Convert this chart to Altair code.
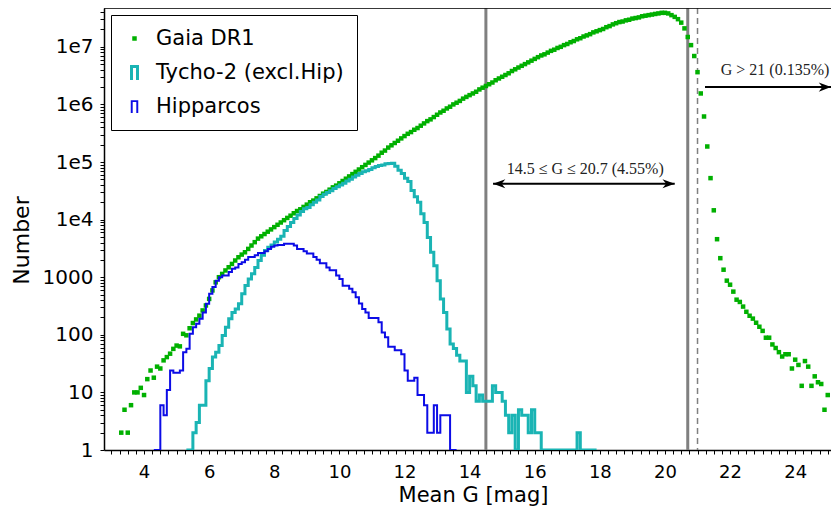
import altair as alt
import pandas as pd

# ---------------- colours ----------------
GAIA_COLOR = "#00b000"
TYCHO_COLOR = "#1ab4b4"
HIP_COLOR = "#0c0ce6"
LINE_GREY = "#808080"

series_names = ["Gaia DR1", "Tycho-2 (excl.Hip)", "Hipparcos"]
series_colors = [GAIA_COLOR, TYCHO_COLOR, HIP_COLOR]

bin_width = 0.1

# ---------------- Gaia DR1 (points, bins of 0.1 mag starting at 3.3) ----------------
gaia_first = 3.3
gaia_counts = [
    2, 5, 2, 6, 10, 10, 12,                                                          # 3.3-3.9
    9, 17, 24, 18, 28, 26, 36, 41, 47, 57,                                            # 4.x
    65, 63, 104, 98, 130, 160, 185, 215, 265, 323,                                    # 5.x
    420, 590, 815, 1000, 1140, 1310, 1490, 1700, 1950, 2220,                          # 6.x
    2470, 2710, 3100, 3550, 4060, 4680, 5130, 5620, 6170, 6760,                       # 7.x
    7410, 8130, 8910, 9770, 10700, 11700, 12900, 14100, 15100, 16600,                 # 8.x
    18200, 20000, 21400, 23400, 25700, 28200, 30200, 33100, 36300, 38900,             # 9.x
    42700, 46800, 51300, 56200, 61700, 67600, 74100, 81300, 89100, 97700,             # 10.x
    107000, 117000, 129000, 145000, 158000, 178000, 195000, 214000, 234000, 257000,   # 11.x
    282000, 309000, 331000, 363000, 389000, 427000, 468000, 513000, 550000, 603000,   # 12.x
    661000, 724000, 776000, 851000, 912000, 1000000, 1070000, 1150000, 1260000, 1350000,  # 13.x
    1450000, 1550000, 1660000, 1820000, 1950000, 2090000, 2240000, 2400000, 2630000, 2820000,  # 14.x
    3020000, 3240000, 3470000, 3800000, 4070000, 4370000, 4680000, 5010000, 5370000, 5750000,  # 15.x
    6170000, 6610000, 7080000, 7410000, 7940000, 8510000, 8910000, 9550000, 10000000, 10700000,  # 16.x
    11200000, 12000000, 12600000, 13500000, 14100000, 15100000, 15800000, 16600000, 17800000, 18600000,  # 17.x
    19500000, 20400000, 21900000, 22900000, 24500000, 25700000, 26900000, 27500000, 28800000, 29500000,  # 18.x
    30900000, 31600000, 32400000, 33900000, 34700000, 35500000, 36300000, 37200000, 38000000, 38900000,  # 19.x
    38900000, 38000000, 35500000, 33100000, 30200000, 26300000, 20900000, 14800000, 10700000, 6920000,  # 20.x
    3630000, 1550000, 617000, 186000, 52500, 14500, 4570, 2140, 1350, 871,            # 21.x
    741, 562, 407, 372, 309, 251, 214, 191, 162, 138,                                 # 22.x
    117, 89, 89, 68, 59, 50, 42, 46, 46, 26,                                          # 23.x
    37, 30, 13, 35, 28, 13, 19, 15, 14, 5,                                            # 24.x
    9,                                                                                # 25.0
]

# ---------------- Tycho-2 excl. Hipparcos (histogram, left bin edges from 5.3) ----------------
tycho_first = 5.3
tycho_counts = [
    1, 1, 2, 3, 6, 6, 16,                                                   # 5.3-5.9
    26, 41, 50, 65, 97, 135, 190, 245, 280, 345,                            # 6.x
    515, 720, 935, 1150, 1480, 1950, 2400, 2900, 3300, 3630,                # 7.x
    4070, 4570, 5130, 6460, 7590, 8910, 10500, 12000, 13800, 15500,         # 8.x
    16200, 18200, 20000, 21900, 25100, 27500, 29500, 31600, 34700, 37200,   # 9.x
    39800, 42700, 46800, 50100, 55000, 58900, 63100, 67600, 70800, 74100,   # 10.x
    79400, 83200, 87100, 89100, 93300, 94400, 95500, 84000, 72000, 63000,   # 11.x
    52000, 46000, 32000, 25000, 20000, 12600, 8900, 4900, 2700, 1580,       # 12.x
    870, 420, 245, 126, 69, 58, 44, 35, 35, 10,                             # 13.x
    19, 13, 7, 9, 7, 7, 7, 13, 10, 10,                                      # 14.x
    7, 4, 2, 4, 1, 5, 4, 4, 2, 5,                                           # 15.x
    2, 2, 1, 1, 1, 1, 1, 1, 1, 1,                                           # 16.x
    1, 1, 1, 2, 1, 1, 1, 1, 1,                                              # 17.0-17.8
]

# ---------------- Hipparcos (histogram, left bin edges from 4.3) ----------------
hip_first = 4.3
hip_counts = [
    1, 1, 6, 4, 11, 24, 22,                                                 # 4.3-4.9
    22, 24, 50, 57, 104, 135, 155, 190, 245, 345,                           # 5.x
    515, 675, 870, 1000, 1070, 1070, 1230, 1400, 1480, 1700,                # 6.x
    1820, 2000, 2240, 2240, 2400, 2630, 2630, 2820, 3100, 3390,             # 7.x
    3550, 3630, 3630, 3800, 3800, 3800, 3550, 3100, 3100, 2820,             # 8.x
    2570, 2570, 2240, 2000, 1740, 1740, 1480, 1320, 1320, 1070,             # 9.x
    930, 710, 710, 630, 550, 450, 350, 280, 245, 195,                       # 10.x
    195, 195, 166, 110, 91, 62, 62, 54, 54, 46,                             # 11.x
    24, 16, 16, 18, 9, 9, 6, 2, 2, 6,                                       # 12.x
    2, 4, 4, 4, 1, 1,                                                       # 13.0-13.5
]

# ---------------- annotations ----------------
solid_limits = [14.5, 20.7]
dashed_limits = [21.0]
annot_text = ["14.5 \u2264 G \u2264 20.7 (4.55%)", "G > 21 (0.135%)"]
annot_text_mag = [17.55, 23.38]
annot_text_count = [76000, 3900000]
arrow_start = [14.72, 21.23]
arrow_end = [20.30, 25.1]
arrow_count = [41900, 2000000]
arrow_both_ends = [True, False]

# ---------------- axes ----------------
x_min, x_max = 2.77, 25.1
y_min, y_max = 1, 4.72e7
plot_w, plot_h = 727, 442

x_tick_values = [3 + 0.25 * i for i in range(89)]
y_tick_values = [k * 10 ** d for d in range(0, 8) for k in range(1, 10) if k * 10 ** d <= y_max]

FONT = "DejaVu Sans"


def hist_table(first, counts, name, close):
    mags = [round(first + bin_width * i, 2) for i in range(len(counts))]
    vals = list(counts)
    if close:
        mags.append(round(first + bin_width * len(counts), 2))
        vals.append(counts[-1])
    return pd.DataFrame({"mag": mags, "count": vals, "series": name})


gaia_df = hist_table(gaia_first, gaia_counts, series_names[0], False)
tycho_df = hist_table(tycho_first, tycho_counts, series_names[1], True)
hip_df = hist_table(hip_first, hip_counts, series_names[2], True)

x_scale = alt.Scale(domain=[x_min, x_max], nice=False, zero=False)
y_scale = alt.Scale(type="log", domain=[y_min, y_max], nice=False)

x_axis = alt.Axis(
    values=x_tick_values,
    labelExpr="datum.value % 2 == 0 ? format(datum.value, 'd') : ''",
    labelOverlap=False,
    labelFont=FONT, labelFontSize=18, labelColor="black", labelPadding=9,
    tickSize=4, tickColor="black", tickWidth=1,
    domainColor="black", domainWidth=1.5,
    grid=False,
    title="Mean G [mag]", titleFont=FONT, titleFontSize=21, titleFontWeight="normal",
    titleColor="black", titleX=369, titleY=45, titleAlign="center", titleBaseline="middle",
)
y_axis = alt.Axis(
    values=y_tick_values,
    labelExpr=(
        "datum.value < 9999 ? (indexof([1,10,100,1000], datum.value) >= 0 ? format(datum.value, 'd') : '')"
        " : (indexof([10000,100000,1000000,10000000], datum.value) >= 0 ? '1e' + format(round(log(datum.value)/LN10), 'd') : '')"
    ),
    labelOverlap=False,
    labelFont=FONT, labelFontSize=20, labelColor="black", labelPadding=7,
    tickSize=4, tickColor="black", tickWidth=1,
    domainColor="black", domainWidth=1.5,
    grid=False,
    title="Number", titleFont=FONT, titleFontSize=22, titleFontWeight="normal",
    titleColor="black", titleX=-83, titleY=232, titleAngle=270,
    titleAlign="center", titleBaseline="middle",
)


def X(field="mag"):
    return alt.X(f"{field}:Q", scale=x_scale, axis=x_axis)


def Y(field="count"):
    return alt.Y(f"{field}:Q", scale=y_scale, axis=y_axis)


# legend glyphs: small filled square for the points, open-bottom "step" glyphs for histograms
square_path = "M-0.3,-0.3H0.3V0.3H-0.3Z"
tycho_glyph = "M-0.6,1V-1H0.6V1H0.2V-0.6H-0.2V1Z"
hip_glyph = "M-0.5,0.85V-0.85H0.5V0.85H0.24V-0.6H-0.24V0.85Z"

color_scale = alt.Scale(domain=series_names, range=series_colors)
shape_scale = alt.Scale(domain=series_names, range=[square_path, tycho_glyph, hip_glyph])

legend = alt.Legend(
    title=None,
    orient="none", legendX=7, legendY=7,
    padding=13, strokeColor="black", fillColor="white", cornerRadius=0,
    labelFont=FONT, labelFontSize=21, labelColor="black", labelLimit=400,
    labelOffset=11, rowPadding=12, symbolSize=225, symbolOffset=0,
    symbolStrokeWidth=0, symbolOpacity=1,
)

# ---------------- layers ----------------
solid_rules = alt.Chart(pd.DataFrame({"mag": solid_limits})).mark_rule(
    color=LINE_GREY, strokeWidth=3
).encode(x=X())

dashed_rules = alt.Chart(pd.DataFrame({"mag": dashed_limits})).mark_rule(
    color=LINE_GREY, strokeWidth=1.5, strokeDash=[6, 4]
).encode(x=X())

gaia_layer = alt.Chart(gaia_df).mark_point(size=225, filled=True, opacity=1, strokeWidth=0, clip=True).encode(
    x=X(), y=Y(),
    color=alt.Color("series:N", scale=color_scale, legend=legend),
    shape=alt.Shape("series:N", scale=shape_scale, legend=legend),
)

tycho_layer = alt.Chart(tycho_df).mark_line(interpolate="step-after", strokeWidth=3, clip=True).encode(
    x=X(), y=Y(), color=alt.Color("series:N", scale=color_scale, legend=None)
)

hip_layer = alt.Chart(hip_df).mark_line(interpolate="step-after", strokeWidth=2, clip=True).encode(
    x=X(), y=Y(), color=alt.Color("series:N", scale=color_scale, legend=None)
)

arrow_df = pd.DataFrame({"mag": arrow_start, "mag2": arrow_end, "count": arrow_count, "both": arrow_both_ends})
arrow_lines = alt.Chart(arrow_df).mark_rule(color="black", strokeWidth=2).encode(
    x=X(), x2=alt.X2("mag2:Q"), y=Y()
)
right_heads = alt.Chart(arrow_df).mark_point(
    shape="M0,0L-2,-0.75L-1.4,0L-2,0.75Z", size=150, filled=True, color="black", opacity=1
).encode(x=X("mag2"), y=Y())
left_heads = alt.Chart(arrow_df[arrow_df["both"]]).mark_point(
    shape="M0,0L2,-0.75L1.4,0L2,0.75Z", size=150, filled=True, color="black", opacity=1
).encode(x=X(), y=Y())

text_df = pd.DataFrame({"mag": annot_text_mag, "count": annot_text_count, "label": annot_text})
texts = alt.Chart(text_df).mark_text(
    font="Liberation Serif", fontSize=16, color="#222222", align="center", baseline="middle"
).encode(x=X(), y=Y(), text="label:N")

top_frame = alt.Chart(pd.DataFrame({"a": [0]})).mark_rule(color="black", strokeWidth=1.5).encode(
    x=alt.value(0), x2=alt.value(plot_w), y=alt.value(0)
)

chart = alt.layer(
    solid_rules, dashed_rules, gaia_layer, tycho_layer, hip_layer,
    arrow_lines, right_heads, left_heads, texts, top_frame,
).properties(
    width=plot_w, height=plot_h,
    padding={"left": 96, "top": 0, "right": 0, "bottom": 59},
    autosize=alt.AutoSizeParams(type="none"),
).configure_view(stroke=None).configure(background="white")

chart.save("out.html", embed_options={"renderer": "svg", "actions": False})
